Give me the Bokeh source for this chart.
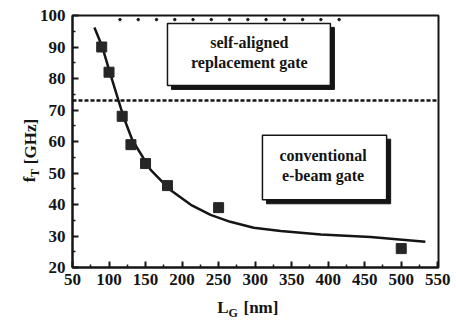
import math
from bokeh.plotting import figure
from bokeh.models import Span, Label, Range1d, FixedTicker, LinearAxis
from bokeh.embed import file_html
from bokeh.resources import INLINE

# measured data
lg_nm = [90, 100, 118, 130, 150, 180, 250, 500]
ft_ghz = [90, 82, 68, 59, 53, 46, 39, 26]

# fitted curve
curve_x = [80, 91, 101, 113, 120, 132, 157, 184, 212, 239, 266, 298, 335, 390, 458, 533]
curve_y = [96.2, 89.9, 82, 73, 67.7, 60.4, 51, 44.6, 39.9, 36.7, 34.5, 32.6, 31.6, 30.5, 29.7, 28.2]

# dotted line near the top
dot_x = [115, 140, 165, 190, 215, 240, 265, 290, 315, 340, 365, 390, 415]
dot_level = 98.7

# dashed limit line
dash_level = 73

x_ticks = [50, 100, 150, 200, 250, 300, 350, 400, 450, 500, 550]
x_minor = [75, 125, 175, 225, 275, 325, 375, 425, 475, 525]
y_ticks = [20, 30, 40, 50, 60, 70, 80, 90, 100]
y_minor = [25, 35, 45, 55, 65, 75, 85, 95]

FONT = "'Liberation Serif', 'Times New Roman', serif"
INK = "#151515"

p = figure(width=456, height=323, output_backend="svg", toolbar_location=None,
           x_range=Range1d(50, 551), y_range=Range1d(20, 100),
           min_border_left=72, min_border_right=18, min_border_top=15, min_border_bottom=56)
p.xgrid.visible = False
p.ygrid.visible = False
p.outline_line_color = INK
p.outline_line_width = 2
p.background_fill_color = "white"
p.border_fill_color = "white"

p.xaxis.ticker = FixedTicker(ticks=x_ticks, minor_ticks=x_minor)
p.yaxis.ticker = FixedTicker(ticks=y_ticks, minor_ticks=y_minor)
for ax in (p.xaxis[0], p.yaxis[0]):
    ax.axis_line_width = 2
    ax.axis_line_color = INK
    ax.major_tick_in = 6
    ax.major_tick_out = 0
    ax.minor_tick_in = 3
    ax.minor_tick_out = 0
    ax.major_tick_line_width = 2
    ax.minor_tick_line_width = 1.5
    ax.major_tick_line_color = INK
    ax.minor_tick_line_color = INK
    ax.major_label_text_font = FONT
    ax.major_label_text_font_style = "bold"
    ax.major_label_text_font_size = "17px"
    ax.major_label_text_color = INK
p.xaxis.major_label_standoff = 6
p.yaxis.major_label_standoff = 7


def text_axis(ticks, labels, size, standoff, orientation="horizontal"):
    ax = LinearAxis(ticker=FixedTicker(ticks=ticks, minor_ticks=[]),
                    major_label_overrides=dict(zip(ticks, labels)))
    ax.axis_line_color = None
    ax.major_tick_line_color = None
    ax.minor_tick_line_color = None
    ax.major_tick_in = 0
    ax.major_tick_out = 0
    ax.major_label_standoff = standoff
    ax.major_label_text_font = FONT
    ax.major_label_text_font_style = "bold"
    ax.major_label_text_font_size = size
    ax.major_label_text_color = INK
    ax.major_label_orientation = orientation
    return ax

# x axis title  L_G [nm]  (subscript on a second, lower row)
p.add_layout(text_axis([256, 308], ["L", "[nm]"], "17px", 10), "below")
p.add_layout(text_axis([270], ["G"], "12px", -14), "below")

# y axis title  f_T [GHz]  (subscript column nearer the frame)
p.add_layout(text_axis([50], ["T"], "12px", -5, "vertical"), "left")
p.add_layout(text_axis([48, 60], ["f", "[GHz]"], "17px", -15, "vertical"), "left")

# boxes with shadows
boxes = [(180, 403, 97.5, 77.8), (310, 480, 62, 41.5)]
dx, dy = 5.5, 1.27
for l, r, t, b in boxes:
    p.quad(left=l + dx, right=r + dx, top=t - dy, bottom=b - dy, fill_color=INK, line_color=INK)
    p.quad(left=l, right=r, top=t, bottom=b, fill_color="white", line_color=INK, line_width=1.5)


def txt(x, y, s, size="16px"):
    p.add_layout(Label(x=x, y=y, text=s, text_font=FONT, text_font_style="bold",
                       text_font_size=size, text_align="center", text_baseline="middle",
                       text_color=INK))

txt(292, 91.4, "self-aligned")
txt(292, 85.1, "replacement gate")
txt(393, 55.6, "conventional")
txt(393, 49.2, "e-beam gate")

# dashed line and dotted line
p.add_layout(Span(location=dash_level, dimension="width", line_color=INK,
                  line_width=2.5, line_dash="4 2"))
p.scatter(dot_x, [dot_level] * len(dot_x), size=2.5, color=INK)

# curve and points
p.line(curve_x, curve_y, line_width=2.5, color=INK)
p.scatter(lg_nm, ft_ghz, marker="square", size=10, color="#262626")

open("out.html", "w").write(file_html(p, INLINE))
